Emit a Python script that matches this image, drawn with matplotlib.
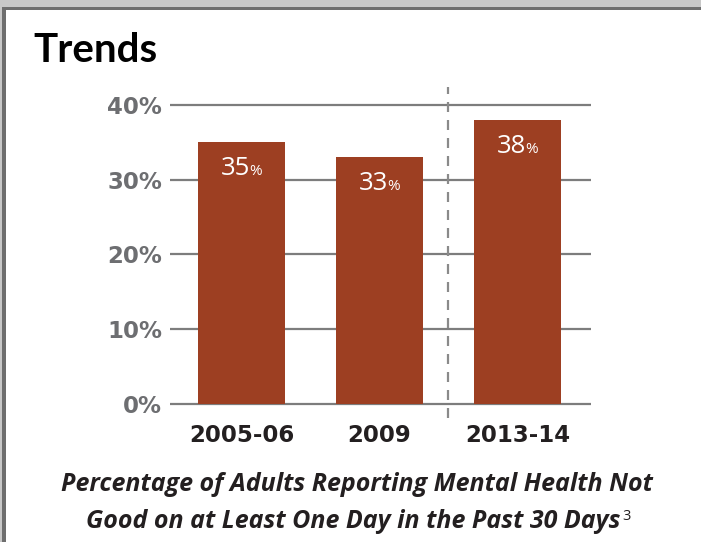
import matplotlib
matplotlib.use("Agg")
import matplotlib.pyplot as plt
from matplotlib.patches import Rectangle

# Data
periods = ["2005-06", "2009", "2013-14"]
pct_not_good = [35, 33, 38]
y_ticks = [0, 10, 20, 30, 40]
y_tick_labels = ["0%", "10%", "20%", "30%", "40%"]

BAR_COLOR = "#9d3f22"
TICK_GRAY = "#6d6e71"
GRID_GRAY = "#7d7d7d"
DARK = "#231f20"

W, H = 701, 542
fig = plt.figure(figsize=(W / 100, H / 100), dpi=100)
fig.patch.set_facecolor("white")

# Panel frame: light gray margin with a darker rule on top and left
fig.patches.append(Rectangle((0, 1 - 7 / H), 1, 7 / H, transform=fig.transFigure,
                             facecolor="#c8c8c8", edgecolor="none", zorder=0))
fig.patches.append(Rectangle((0, 1 - 10 / H), 1, 3 / H, transform=fig.transFigure,
                             facecolor="#6e6e6e", edgecolor="none", zorder=0))
fig.patches.append(Rectangle((0, 0), 2 / W, 1, transform=fig.transFigure,
                             facecolor="#c8c8c8", edgecolor="none", zorder=0))
fig.patches.append(Rectangle((2 / W, 0), 4 / W, 1 - 7 / H, transform=fig.transFigure,
                             facecolor="#6e6e6e", edgecolor="none", zorder=0))

left, right, top, bottom = 170, 591, 87, 418
ax = fig.add_axes([left / W, 1 - bottom / H, (right - left) / W, (bottom - top) / H])
ax.set_facecolor("none")

x = list(range(len(periods)))
ax.set_xlim(-0.518, 2.533)
ax.set_ylim(-1.87, 42.4)

# Horizontal gridlines spanning the plot width
ax.hlines(y_ticks, -0.518, 2.533, colors=GRID_GRAY, linewidth=1.6, zorder=1)

bars = ax.bar(x, pct_not_good, width=0.63, color=BAR_COLOR, zorder=2)

# Dashed separator before the latest survey period
ax.axvline(1.5, color="#8a8a8a", linewidth=1.6, linestyle=(0, (4.5, 3.6)), zorder=3)

for xi, v in zip(x, pct_not_good):
    ax.annotate(f"{v}", xy=(xi, v), xytext=(8.5, -33), textcoords="offset pixels",
                ha="right", va="baseline", color="white", fontsize=18.5,
                fontfamily="Open Sans", zorder=4)
    ax.annotate("%", xy=(xi, v), xytext=(8, -33), textcoords="offset pixels",
                ha="left", va="baseline", color="white", fontsize=11,
                fontfamily="Open Sans", zorder=4)

for s in ax.spines.values():
    s.set_visible(False)

ax.tick_params(axis="y", length=0, pad=5.8)
ax.tick_params(axis="x", length=0, pad=4)
ax.set_yticks(y_ticks)
ax.set_yticklabels(y_tick_labels)
ax.set_xticks(x)
ax.set_xticklabels(periods)
for lbl in ax.get_yticklabels():
    lbl.set_fontfamily("DejaVu Sans")
    lbl.set_fontweight("bold")
    lbl.set_fontsize(16.5)
    lbl.set_color(TICK_GRAY)
for lbl in ax.get_xticklabels():
    lbl.set_fontfamily("DejaVu Sans")
    lbl.set_fontweight("bold")
    lbl.set_fontsize(16.5)
    lbl.set_color(DARK)

fig.text(33 / W, 1 - 62 / H, "Trends", fontsize=29, fontweight="bold",
         color="black", fontfamily="Lato", va="baseline", ha="left")

caption_kw = dict(fontsize=18, fontweight="bold", fontstyle="italic", color=DARK,
                  fontfamily="Open Sans", va="baseline")
fig.text(357 / W, 1 - 491 / H, "Percentage of Adults Reporting Mental Health Not",
         ha="center", **caption_kw)
line2 = fig.text(353 / W, 1 - 528 / H,
                 "Good on at Least One Day in the Past 30 Days",
                 ha="center", **caption_kw)

# Footnote marker placed right after the second caption line
fig.canvas.draw()
bb = line2.get_window_extent()
fig.text((bb.x1 + 2) / W, 1 - 520 / H, "3", fontsize=10.5, color=DARK,
         fontfamily="Open Sans", ha="left", va="baseline")

fig.savefig("out.png", dpi=100, facecolor=fig.get_facecolor())
